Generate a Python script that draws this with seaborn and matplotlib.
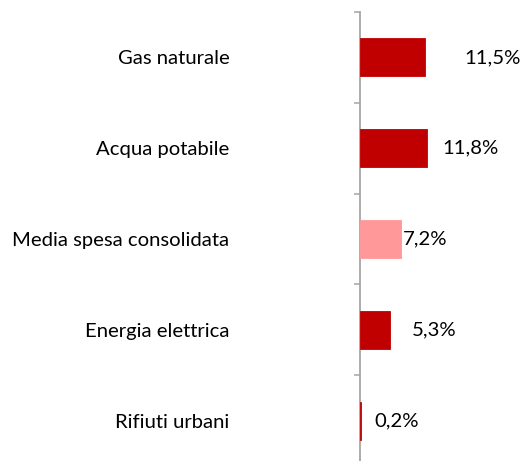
import matplotlib
matplotlib.use("Agg")
import matplotlib.pyplot as plt
import seaborn as sns
import numpy as np

categories = ["Gas naturale", "Acqua potabile", "Media spesa consolidata", "Energia elettrica", "Rifiuti urbani"]
values = [11.5, 11.8, 7.2, 5.3, 0.2]
value_labels = ["11,5%", "11,8%", "7,2%", "5,3%", "0,2%"]
bar_colors = ["#C00000", "#C00000", "#FF9999", "#C00000", "#C00000"]
label_dx_px = [40, 16, 2, 22, 13]

sns.set_theme(style="white")
plt.rcParams['font.family'] = ['Lato', 'DejaVu Sans']

W, H = 524, 461
fig = plt.figure(figsize=(W/100, H/100), dpi=100)
ax_left = 360 / W
ax_top = 12
ax_bottom = 466
ax = fig.add_axes([ax_left, 1 - ax_bottom / H, 1 - ax_left, (ax_bottom - ax_top) / H])

sns.barplot(x=values, y=categories, hue=categories, palette=bar_colors,
            legend=False, width=0.42, orient="h", ax=ax, saturation=1)
for p, c in zip(ax.patches, bar_colors):
    p.set_edgecolor(c)
    p.set_linewidth(0.6)

ax.set_xlim(0, (W - 360) / 5.64)
ax.set_ylim(len(categories) - 0.5, -0.5)
ax.set_xticks([])
ax.set_xlabel("")
ax.set_ylabel("")
for s in ["top", "right", "bottom"]:
    ax.spines[s].set_visible(False)
ax.spines["left"].set_color("#A6A6A6")
ax.spines["left"].set_linewidth(1.3)
ax.spines["left"].set_zorder(0.5)

fs = 14.6
ax.set_yticks(np.arange(len(categories)))
ax.set_yticklabels(categories, fontsize=fs, color="#000000")
ax.set_yticks(np.arange(len(categories) + 1) - 0.5, minor=True)
ax.tick_params(axis="y", which="major", length=0, pad=94)
ax.tick_params(axis="y", which="minor", length=4, width=1.1, color="#A6A6A6", left=True)

for i, (v, lab, dx) in enumerate(zip(values, value_labels, label_dx_px)):
    ax.annotate(lab, xy=(v, i), xytext=(dx * 72 / 100, 0), textcoords="offset points",
                ha="left", va="center", fontsize=fs, color="#000000")

fig.savefig("out.png", dpi=100)
